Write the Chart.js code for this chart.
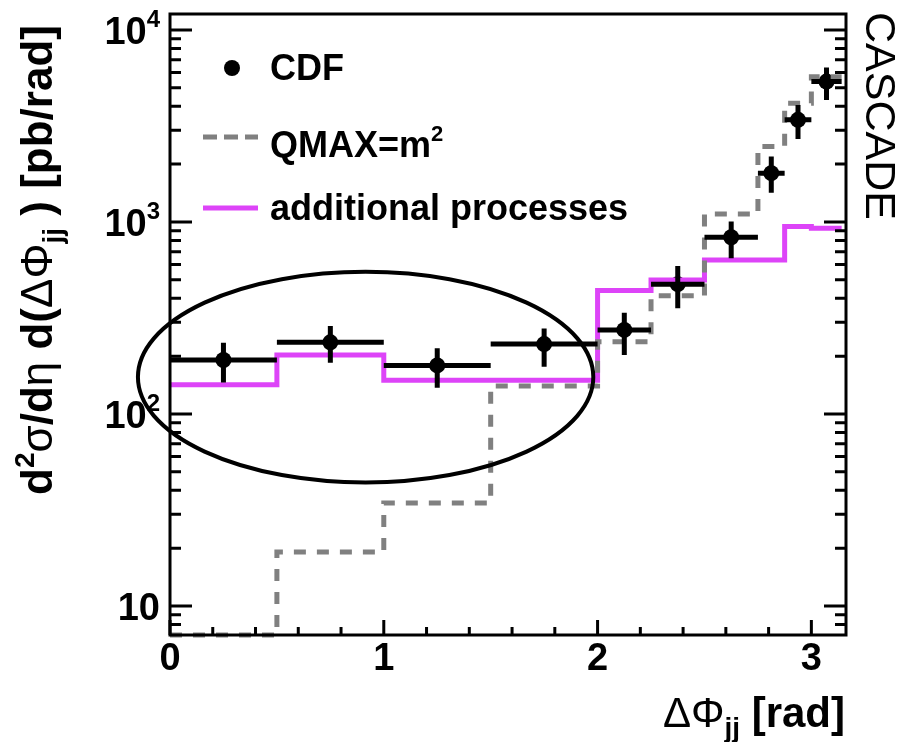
<!DOCTYPE html>
<html>
<head>
<meta charset="utf-8">
<script src="https://cdn.jsdelivr.net/npm/chart.js@4.4.1/dist/chart.umd.min.js"></script>
<style>
  html, body { margin: 0; padding: 0; background: #fff; }
  #wrap { width: 900px; height: 742px; }
</style>
</head>
<body>
<div id="wrap"><canvas id="chart" width="900" height="742"></canvas></div>
<script>
// Delta phi bin edges (rad)
const binEdges = [0, 0.5, 1.0, 1.5, 2.0, 2.25, 2.5, 2.75, 2.875, 3.0, Math.PI];

// CDF data per bin, with error band limits
const cdfValues = [191, 236, 179, 231, 274, 474, 832, 1795, 3400, 5380];
const cdfUpper  = [235, 287, 220, 279, 337, 590, 1004, 2190, 4060, 6370];
const cdfLower  = [146, 185, 137, 176, 203, 355, 647, 1420, 2700, 4310];

// CASCADE histograms
const qmaxValues    = [7.05, 19.1, 34.4, 140, 238, 412, 1100, 2470, 4150, 5700];
const addProcValues = [142, 203, 150, 150, 439, 499, 634, 634, 946, 927];

// Axis labels
const xTickLabels = [0, 1, 2, 3];
const yTickExponents = [1, 2, 3, 4];

// Region circled on the plot (data units)
const ellipseX = [-0.15, 1.98];
const ellipseY = [44, 550];

const SANS = '"Liberation Sans", Arial, Helvetica, sans-serif';
const MAGENTA = '#dd44f8';
const GREY = '#808080';

function stepPoints(edges, vals) {
    const pts = [];
    vals.forEach((v, i) => {
        pts.push({ x: edges[i], y: v });
        pts.push({ x: edges[i + 1], y: v });
    });
    return pts;
}

const binCenters = binEdges.slice(0, -1).map((e, i) => (e + binEdges[i + 1]) / 2);

function runWidth(ctx, runs) {
    let w = 0;
    runs.forEach(r => { ctx.font = r.font; w += ctx.measureText(r.t).width; });
    return w;
}

// draws a row of text pieces (sub/superscripts via dy)
function drawRuns(ctx, runs, x, y, align) {
    const w = runWidth(ctx, runs);
    let cx = align === 'right' ? x - w : align === 'center' ? x - w / 2 : x;
    ctx.textAlign = 'left';
    ctx.textBaseline = 'alphabetic';
    runs.forEach(r => {
        ctx.font = r.font;
        ctx.fillText(r.t, cx, y + (r.dy || 0));
        cx += ctx.measureText(r.t).width;
    });
}

const errorBars = {
    id: 'errorBars',
    afterDatasetsDraw(chart) {
        const { ctx, scales: { x, y } } = chart;
        ctx.save();
        ctx.strokeStyle = '#000';
        ctx.lineWidth = 5;
        ctx.lineCap = 'butt';
        cdfValues.forEach((v, i) => {
            const py = y.getPixelForValue(v);
            const px = x.getPixelForValue(binCenters[i]);
            ctx.beginPath();
            ctx.moveTo(x.getPixelForValue(binEdges[i]), py);
            ctx.lineTo(x.getPixelForValue(binEdges[i + 1]), py);
            ctx.moveTo(px, y.getPixelForValue(cdfUpper[i]));
            ctx.lineTo(px, y.getPixelForValue(cdfLower[i]));
            ctx.stroke();
        });
        ctx.restore();
    }
};

const frameAndText = {
    id: 'frameAndText',
    afterDraw(chart) {
        const { ctx, chartArea: a, scales: { x, y } } = chart;
        ctx.save();
        ctx.fillStyle = '#000';
        ctx.strokeStyle = '#000';

        // circled region
        const ex0 = x.getPixelForValue(ellipseX[0]), ex1 = x.getPixelForValue(ellipseX[1]);
        const ey0 = y.getPixelForValue(ellipseY[1]), ey1 = y.getPixelForValue(ellipseY[0]);
        ctx.lineWidth = 4;
        ctx.beginPath();
        ctx.ellipse((ex0 + ex1) / 2, (ey0 + ey1) / 2, (ex1 - ex0) / 2, (ey1 - ey0) / 2, 0, 0, Math.PI * 2);
        ctx.stroke();

        // frame
        ctx.lineWidth = 3;
        ctx.strokeRect(a.left, a.top, a.right - a.left, a.bottom - a.top);

        // y ticks on both sides, pointing inward
        ctx.beginPath();
        for (let e = 0; e <= 4; e++) {
            for (let m = 1; m <= 9; m++) {
                const v = m * Math.pow(10, e);
                if (v < y.min || v > y.max) continue;
                const py = y.getPixelForValue(v);
                const len = m === 1 ? 22 : 11;
                ctx.moveTo(a.left, py); ctx.lineTo(a.left + len, py);
                ctx.moveTo(a.right, py); ctx.lineTo(a.right - len, py);
            }
        }
        // x ticks along the bottom
        for (let i = 0; i * 0.2 <= x.max + 1e-9; i++) {
            const px = x.getPixelForValue(i * 0.2);
            const len = i % 5 === 0 ? 15 : 8;
            ctx.moveTo(px, a.bottom); ctx.lineTo(px, a.bottom - len);
        }
        ctx.stroke();

        // tick labels
        ctx.textAlign = 'center';
        ctx.textBaseline = 'middle';
        ctx.font = `bold 38px ${SANS}`;
        xTickLabels.forEach(v => ctx.fillText(String(v), x.getPixelForValue(v), a.bottom + 25));
        yTickExponents.forEach(e => {
            const runs = [{ t: '10', font: `bold 38px ${SANS}` }];
            if (e > 1) runs.push({ t: String(e), font: `bold 24px ${SANS}`, dy: -17 });
            drawRuns(ctx, runs, 160, y.getPixelForValue(Math.pow(10, e)) + 14, 'right');
        });

        // x title
        drawRuns(ctx, [
            { t: 'ΔΦ', font: `42px ${SANS}` },
            { t: 'jj', font: `bold 28px ${SANS}`, dy: 10 },
            { t: ' [rad]', font: `bold 42px ${SANS}` }
        ], 845, 727, 'right');

        // y title
        ctx.save();
        ctx.translate(52, 260);
        ctx.rotate(-Math.PI / 2);
        drawRuns(ctx, [
            { t: 'd', font: `bold 44px ${SANS}` },
            { t: '2', font: `bold 28px ${SANS}`, dy: -18 },
            { t: 'σ', font: `44px ${SANS}` },
            { t: '/d', font: `bold 44px ${SANS}` },
            { t: 'η', font: `44px ${SANS}` },
            { t: ' d(', font: `bold 44px ${SANS}` },
            { t: 'ΔΦ', font: `44px ${SANS}` },
            { t: 'jj', font: `bold 28px ${SANS}`, dy: 10 },
            { t: ' ) [pb/rad]', font: `bold 44px ${SANS}` }
        ], 0, 0, 'center');
        ctx.restore();

        // generator name
        ctx.save();
        ctx.translate(866, 12);
        ctx.rotate(Math.PI / 2);
        ctx.font = `43px ${SANS}`;
        ctx.textAlign = 'left';
        ctx.textBaseline = 'alphabetic';
        ctx.fillText('CASCADE', 0, 0);
        ctx.restore();

        // legend
        ctx.beginPath();
        ctx.arc(232, 68, 8, 0, Math.PI * 2);
        ctx.fill();
        drawRuns(ctx, [{ t: 'CDF', font: `bold 36px ${SANS}` }], 270, 80, 'left');

        ctx.lineWidth = 5;
        ctx.strokeStyle = GREY;
        ctx.setLineDash([14, 7]);
        ctx.beginPath();
        ctx.moveTo(203, 137); ctx.lineTo(258, 137);
        ctx.stroke();
        ctx.setLineDash([]);
        drawRuns(ctx, [
            { t: 'QMAX=m', font: `bold 36px ${SANS}` },
            { t: '2', font: `bold 22px ${SANS}`, dy: -16 }
        ], 270, 157, 'left');

        ctx.strokeStyle = MAGENTA;
        ctx.beginPath();
        ctx.moveTo(203, 208); ctx.lineTo(258, 208);
        ctx.stroke();
        drawRuns(ctx, [{ t: 'additional processes', font: `bold 36px ${SANS}` }], 270, 220, 'left');

        ctx.restore();
    }
};

new Chart(document.getElementById('chart'), {
    type: 'line',
    data: {
        datasets: [{
            label: 'QMAX=m2',
            data: stepPoints(binEdges, qmaxValues),
            borderColor: GREY,
            borderWidth: 5,
            borderDash: [12, 11],
            pointRadius: 0,
            tension: 0,
            fill: false,
            clip: false
        }, {
            label: 'additional processes',
            data: stepPoints(binEdges, addProcValues),
            borderColor: MAGENTA,
            borderWidth: 5,
            pointRadius: 0,
            tension: 0,
            fill: false
        }, {
            type: 'scatter',
            label: 'CDF',
            data: binCenters.map((c, i) => ({ x: c, y: cdfValues[i] })),
            backgroundColor: '#000',
            borderColor: '#000',
            pointRadius: 8,
            pointBorderWidth: 0,
            showLine: false
        }]
    },
    options: {
        responsive: false,
        animation: false,
        events: [],
        layout: { padding: { top: 14, right: 54, left: 0, bottom: 0 } },
        plugins: {
            legend: { display: false },
            tooltip: { enabled: false }
        },
        scales: {
            x: {
                type: 'linear',
                min: 0,
                max: 3.162,
                ticks: { display: false },
                grid: { display: false },
                border: { display: false },
                afterFit: s => { s.height = 107; }
            },
            y: {
                type: 'logarithmic',
                min: 7.06,
                max: 12100,
                ticks: { display: false },
                grid: { display: false },
                border: { display: false },
                afterFit: s => { s.width = 170; }
            }
        }
    },
    plugins: [errorBars, frameAndText]
});
</script>
</body>
</html>
